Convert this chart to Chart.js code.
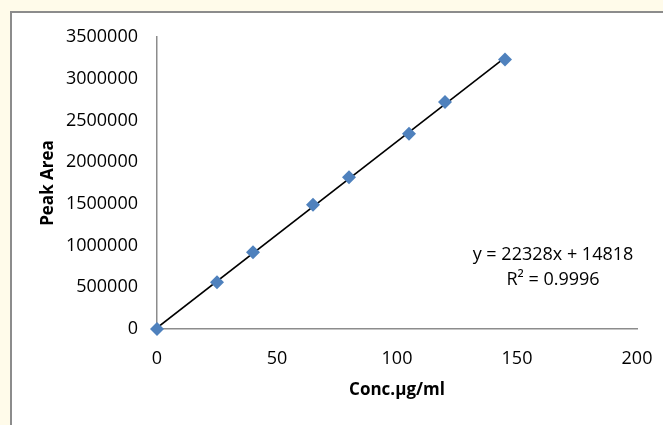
<!DOCTYPE html>
<html>
<head>
<meta charset="utf-8">
<script src="https://cdn.jsdelivr.net/npm/chart.js@4.4.1/dist/chart.umd.min.js"></script>
<style>
  html, body { margin: 0; padding: 0; background: #fffbea; overflow: hidden; }
  #frame {
    position: absolute; left: 10px; top: 11px; width: 700px; height: 460px;
    background: #ffffff; border-left: 2px solid #8c8c8c; border-top: 2px solid #8c8c8c;
  }
  #wrap { position: absolute; left: 0; top: 0; width: 663px; height: 425px; }
</style>
</head>
<body>
<div id="frame"></div>
<div id="wrap"><canvas id="calChart" width="663" height="425"></canvas></div>
<script>
// Concentration (µg/ml) and measured peak areas
const concentrations = [0, 25, 40, 65, 80, 105, 120, 145];
const peakAreas = [0, 560000, 920000, 1490000, 1820000, 2340000, 2720000, 3230000];

// Linear trendline end points (y = 22328x + 14818)
const trendX = [0, 145];
const trendY = [14818, 3252378];

const equationLines = ['y = 22328x + 14818', 'R² = 0.9996'];

const fontFamily = '"Open Sans", "Noto Sans", sans-serif';

// Ecriture de l'équation de la droite
const equationPlugin = {
    id: 'equation',
    afterDatasetsDraw(chart) {
        const ctx = chart.ctx;
        const x = chart.scales.x.getPixelForValue(165);
        const y = chart.scales.y.getPixelForValue(887000);
        ctx.save();
        ctx.fillStyle = '#000000';
        ctx.font = '18px ' + fontFamily;
        ctx.textAlign = 'center';
        ctx.textBaseline = 'middle';
        ctx.fillText(equationLines[0], x, y);
        ctx.fillText(equationLines[1], x, y + 25);
        ctx.restore();
    }
};

// pas d'espace supplémentaire pour les étiquettes aux extrémités
function fixWidth(w) {
    return s => { s.width = w; s.paddingTop = 0; s.paddingBottom = 0; };
}
function fixHeight(h) {
    return s => { s.height = h; s.paddingLeft = 0; s.paddingRight = 0; };
}

const ctx = document.getElementById('calChart').getContext('2d');
new Chart(ctx, {
    type: 'scatter',
    data: {
        datasets: [
            {
                label: 'Trendline',
                data: trendX.map((x, i) => ({ x: x, y: trendY[i] })),
                showLine: true,
                borderColor: '#000000',
                borderWidth: 1.6,
                pointRadius: 0,
                order: 2
            },
            {
                label: 'Peak Area',
                data: concentrations.map((x, i) => ({ x: x, y: peakAreas[i] })),
                pointStyle: 'rectRot',
                pointRadius: 7,
                backgroundColor: '#4f81bd',
                borderColor: '#4f81bd',
                borderWidth: 0,
                clip: false,
                order: 1
            }
        ]
    },
    options: {
        responsive: false,
        animation: false,
        layout: { padding: { left: 34, top: 37, right: 26, bottom: 21 } },
        plugins: {
            legend: { display: false },
            tooltip: { enabled: false }
        },
        scales: {
            x: {
                type: 'linear',
                min: 0,
                max: 200,
                afterFit: fixHeight(75),
                grid: { display: false, drawTicks: false },
                border: { display: true, color: '#8c8c8c', width: 1.5 },
                ticks: { stepSize: 50, padding: 19, color: '#000000', font: { family: fontFamily, size: 18 }, callback: v => String(v) },
                title: { display: true, text: 'Conc.µg/ml', color: '#000000', font: { family: fontFamily, size: 17, weight: 'bold' } }
            },
            y: {
                min: 0,
                max: 3500000,
                afterFit: fixWidth(123),
                grid: { display: false, drawTicks: false },
                border: { display: true, color: '#8c8c8c', width: 1.5 },
                ticks: { stepSize: 500000, padding: 19, color: '#000000', font: { family: fontFamily, size: 18 }, callback: v => String(v) },
                title: { display: true, text: 'Peak Area', color: '#000000', font: { family: fontFamily, size: 17, weight: 'bold' } }
            }
        }
    },
    plugins: [equationPlugin]
});
</script>
</body>
</html>
